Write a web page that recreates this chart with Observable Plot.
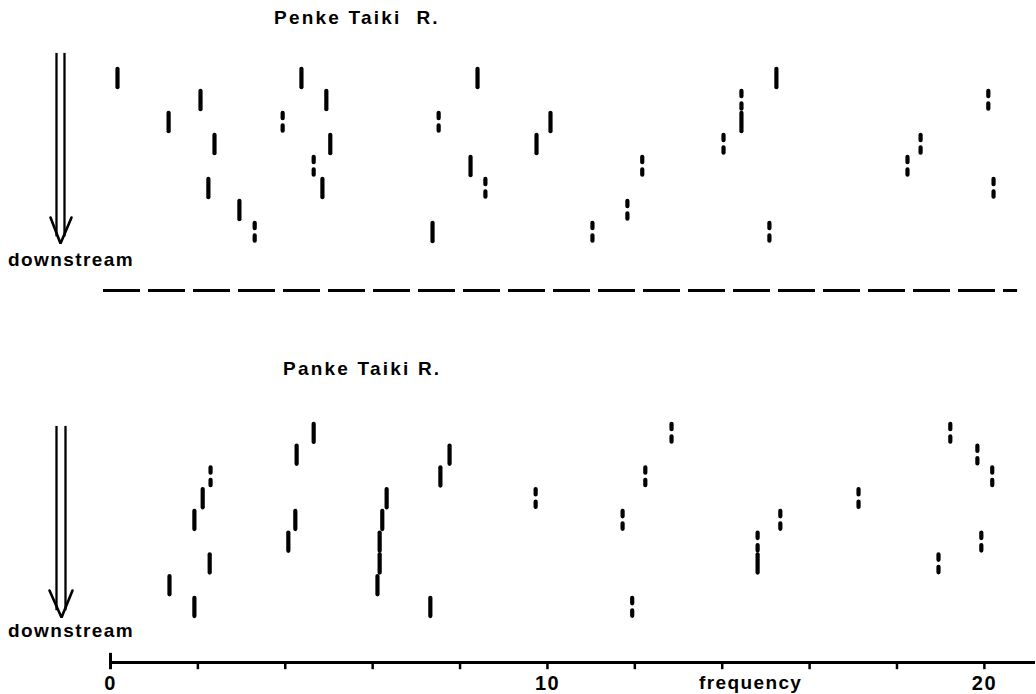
<!DOCTYPE html>
<html><head><meta charset="utf-8">
<script src="https://cdn.jsdelivr.net/npm/d3@7"></script>
<script src="https://cdn.jsdelivr.net/npm/@observablehq/plot@0.6"></script>
<style>
html,body{margin:0;padding:0;background:#fff;}
#chart svg{display:block;}
</style></head><body><div id="chart"></div>
<script>
// ---- data ----
const riverNames = ["Penke Taiki\u00a0 R.", "Panke Taiki R."];
const directionLabel = "downstream";
const axisLabel = "frequency";
const freqTicks = [0, 2, 4, 6, 8, 10, 12, 14, 16, 18, 20];
const freqTickLabels = [0, 10, 20];

// Penke Taiki R. (8 stations, top = upstream)
const penkeRow  = [0,0,0,0, 1,1,1,1, 2,2,2,2,2, 3,3,3,3,3, 4,4,4,4, 5,5,5,5, 6,6, 7,7,7,7];
const penkeFreq = [0.16,4.37,8.40,15.24, 2.06,4.94,14.44,20.09, 1.33,3.94,7.51,10.07,14.44,
                   2.38,5.03,9.75,14.03,18.54, 4.65,8.24,12.17,18.24, 2.24,4.85,8.58,20.21,
                   2.95,11.83, 3.30,7.37,11.03,15.08];
const penkeType = ["solid","solid","solid","solid", "solid","solid","dashed","dashed",
                   "solid","dashed","dashed","solid","solid", "solid","solid","solid","dashed","dashed",
                   "dashed","solid","dashed","dashed", "solid","solid","dashed","dashed",
                   "solid","dashed", "dashed","solid","dashed","dashed"];

// Panke Taiki R. (9 stations)
const pankeRow  = [0,0,0, 1,1,1, 2,2,2,2, 3,3,3,3, 4,4,4,4,4, 5,5,5,5, 6,6,6,6, 7,7, 8,8,8];
const pankeFreq = [4.65,12.84,19.22, 4.26,7.76,19.84, 2.29,7.55,12.24,20.18, 2.11,6.32,9.73,17.12,
                   1.92,4.23,6.22,11.72,15.33, 4.07,6.16,14.81,19.93, 2.27,6.16,14.81,18.95,
                   1.35,6.11, 1.92,7.32,11.94];
const pankeType = ["solid","dashed","dashed", "solid","solid","dashed", "dashed","solid","dashed","dashed",
                   "solid","solid","dashed","dashed", "solid","solid","solid","dashed","dashed",
                   "solid","solid","dashed","dashed", "solid","solid","solid","dashed",
                   "solid","solid", "solid","solid","dashed"];

const toTable = (rows, freqs, types) => rows.map((r, i) => ({row: r, f: freqs[i], type: types[i]}));
const penke = toTable(penkeRow, penkeFreq, penkeType);
const panke = toTable(pankeRow, pankeFreq, pankeType);

const FONT = "'Liberation Sans', Arial, Helvetica, sans-serif";
const half = 0.42;
const xScale = {domain: [0, 21.17], axis: null};

function recordMarks(data) {
  return [
    Plot.ruleX(data.filter(d => d.type === "solid"), {
      x: "f", y1: d => d.row - half, y2: d => d.row + half,
      stroke: "black", strokeWidth: 4.2, strokeLinecap: "round"
    }),
    Plot.ruleX(data.filter(d => d.type === "dashed"), {
      x: "f", y1: d => d.row - half, y2: d => d.row + half,
      stroke: "black", strokeWidth: 4.2, strokeLinecap: "round", strokeDasharray: "5.5,7"
    })
  ];
}

function arrowMarks(a) {
  return [
    Plot.ruleX(a.shafts, {x: d => d, y1: () => a.top, y2: () => a.shaftEnd, stroke: "black", strokeWidth: 2.3}),
    Plot.line(a.head, {x: d => d[0], y: d => d[1], stroke: "black", strokeWidth: 2.6, strokeLinejoin: "miter"}),
    Plot.text([directionLabel], {x: () => a.labelX, y: () => a.labelY, text: d => d, lineAnchor: "bottom",
      fontSize: 19, fontWeight: "bold", fontFamily: FONT, fill: "black"})
  ];
}

// ---- top panel ----
const topArrow = {shafts: [-1.236, -1.053], top: -1.14, shaftEnd: 7.2,
  head: [[-1.373, 6.32], [-1.144, 7.5], [-0.892, 6.32]], labelX: -0.904, labelY: 8.5};

const topSvg = Plot.plot({
  width: 1036, height: 300, marginLeft: 110, marginRight: 1, marginTop: 67, marginBottom: 57,
  x: xScale, y: {domain: [-0.5, 7.5], reverse: true, axis: null},
  style: {fontFamily: FONT, letterSpacing: "1.4px", background: "white"},
  marks: [
    Plot.text([riverNames[0]], {x: () => 5.64, y: () => -2.5, text: d => d, lineAnchor: "bottom",
      fontSize: 19, fontWeight: "bold", fontFamily: FONT, fill: "black"}),
    ...arrowMarks(topArrow),
    ...recordMarks(penke),
    Plot.ruleY([{y: 9.64, x1: -0.16, x2: 20.76}], {y: "y", x1: "x1", x2: "x2",
      stroke: "black", strokeWidth: 3, strokeDasharray: "37,8"})
  ]
});

// ---- bottom panel ----
const yEnd = 10.53;
const botArrow = {shafts: [-1.236, -1.030], top: -0.32, shaftEnd: 8.15,
  head: [[-1.396, 7.22], [-1.121, 8.46], [-0.870, 7.22]], labelX: -0.904, labelY: 9.37};

const botSvg = Plot.plot({
  width: 1036, height: 394, marginLeft: 110, marginRight: 1, marginTop: 122, marginBottom: 32,
  x: xScale, y: {domain: [-0.5, yEnd], reverse: true, axis: null},
  style: {fontFamily: FONT, letterSpacing: "1.4px", background: "white"},
  marks: [
    Plot.text([riverNames[1]], {x: () => 5.76, y: () => -2.67, text: d => d, lineAnchor: "bottom",
      fontSize: 19, fontWeight: "bold", fontFamily: FONT, fill: "black"}),
    ...arrowMarks(botArrow),
    ...recordMarks(panke),
    Plot.ruleY([yEnd], {stroke: "black", strokeWidth: 3}),
    Plot.ruleX(freqTicks.filter(t => t > 0), {x: d => d, y1: () => yEnd, y2: () => yEnd + 0.33, stroke: "black", strokeWidth: 2.5}),
    Plot.ruleX([0], {x: d => d, y1: () => yEnd - 0.42, y2: () => yEnd + 0.33, stroke: "black", strokeWidth: 3}),
    Plot.text(freqTickLabels, {x: d => d, y: () => yEnd, dy: 27, text: d => `${d}`, lineAnchor: "bottom",
      fontSize: 20, fontWeight: "bold", fontFamily: FONT, fill: "black"}),
    Plot.text([axisLabel], {x: () => 14.65, y: () => yEnd, dy: 26, text: d => d, lineAnchor: "bottom",
      fontSize: 19, fontWeight: "bold", fontFamily: FONT, fill: "black"})
  ]
});

[topSvg, botSvg].forEach(svg => {
  d3.select(svg).selectAll("text").filter(function() { return this.textContent.includes("Taiki"); })
    .style("letter-spacing", "2.2px");
  document.getElementById("chart").appendChild(svg);
});
</script>
</body></html>
